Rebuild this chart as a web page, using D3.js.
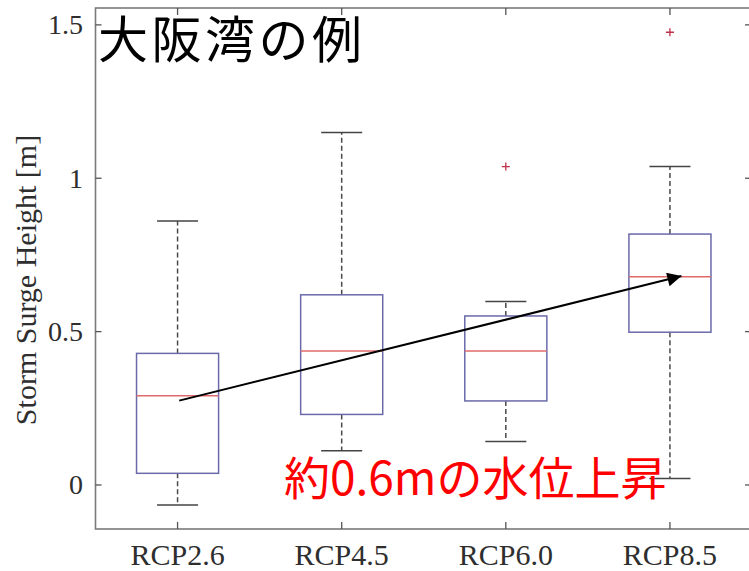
<!DOCTYPE html>
<html><head><meta charset="utf-8">
<script src="https://cdn.jsdelivr.net/npm/d3@7"></script>
<style>body{margin:0;background:#fff;} svg{display:block;}</style>
</head><body>
<svg id="chart" width="749" height="571"></svg>
<script>
const categories = ["RCP2.6", "RCP4.5", "RCP6.0", "RCP8.5"];
const upperWhisker = [0.861, 1.149, 0.598, 1.038];
const q3 = [0.429, 0.620, 0.551, 0.818];
const median = [0.291, 0.437, 0.437, 0.679];
const q1 = [0.038, 0.230, 0.274, 0.498];
const lowerWhisker = [-0.065, 0.112, 0.142, 0.021];
const outliers = [[], [], [1.038], [1.476]];
const yTicks = [0, 0.5, 1, 1.5];
const yTickLabels = ["0", "0.5", "1", "1.5"];
const arrowStart = [0.01, 0.275];   // [category index, value]
const arrowEnd = [3.07, 0.681];
const title = "大阪湾の例";
const note = "約0.6mの水位上昇";
const yLabel = "Storm Surge Height [m]";

const svg = d3.select("#chart");
const L = 95.5, R = 752, T = 8, B = 529;
const x = d3.scaleBand().domain(categories).range([L, R]).padding(0);
const xi = d3.scaleLinear().domain([-0.5, categories.length - 0.5]).range([L, R]);
const y = d3.scaleLinear().domain([-0.1435, 1.555]).range([B, T]);
const bw = x.bandwidth();
const cx = c => x(c) + bw / 2;

const serif = "'Liberation Serif','Times New Roman',serif";
const axisColor = "#7a7a7a";

// frame
svg.append("rect").attr("x", L).attr("y", T).attr("width", R - L).attr("height", B - T)
  .attr("fill", "none").attr("stroke", axisColor).attr("stroke-width", 1.6);

// y ticks (left and right, inward)
const gy = svg.append("g");
yTicks.forEach((t, i) => {
  gy.append("line").attr("x1", L).attr("x2", L + 6).attr("y1", y(t)).attr("y2", y(t)).attr("stroke", "#555").attr("stroke-width", 1.3);
  gy.append("line").attr("x1", R).attr("x2", R - 7).attr("y1", y(t)).attr("y2", y(t)).attr("stroke", "#555").attr("stroke-width", 1.3);
  gy.append("text").attr("x", 83).attr("y", y(t)).attr("text-anchor", "end").attr("dominant-baseline", "central")
    .attr("font-family", serif).attr("font-size", 28).attr("fill", "#2e2e2e").text(yTickLabels[i]);
});

// x ticks (bottom and top, inward)
categories.forEach(c => {
  svg.append("line").attr("x1", cx(c)).attr("x2", cx(c)).attr("y1", B).attr("y2", B - 7).attr("stroke", "#555").attr("stroke-width", 1.3);
  svg.append("line").attr("x1", cx(c)).attr("x2", cx(c)).attr("y1", T).attr("y2", T + 7).attr("stroke", "#555").attr("stroke-width", 1.3);
  svg.append("text").attr("x", cx(c)).attr("y", 565).attr("text-anchor", "middle")
    .attr("font-family", serif).attr("font-size", 30).attr("fill", "#2e2e2e").text(c);
});

// y label
svg.append("text").attr("transform", `translate(36,280) rotate(-90)`)
  .attr("text-anchor", "middle").attr("font-family", serif).attr("font-size", 30).attr("fill", "#2e2e2e").text(yLabel);

// boxes
const boxColor = "#6a6aaa", medColor = "#e06a6a", whiskColor = "#4a4a4a";
categories.forEach((c, i) => {
  const g = svg.append("g");
  const xc = cx(c);
  // whiskers
  g.append("line").attr("x1", xc).attr("x2", xc).attr("y1", y(q3[i])).attr("y2", y(upperWhisker[i]))
    .attr("stroke", whiskColor).attr("stroke-width", 1.5).attr("stroke-dasharray", "5,3");
  g.append("line").attr("x1", xc).attr("x2", xc).attr("y1", y(q1[i])).attr("y2", y(lowerWhisker[i]))
    .attr("stroke", whiskColor).attr("stroke-width", 1.5).attr("stroke-dasharray", "5,3");
  // caps
  [upperWhisker[i], lowerWhisker[i]].forEach(v => {
    g.append("line").attr("x1", xc - bw * 0.125).attr("x2", xc + bw * 0.125).attr("y1", y(v)).attr("y2", y(v))
      .attr("stroke", "#444").attr("stroke-width", 1.5);
  });
  // box
  g.append("rect").attr("x", xc - bw * 0.25).attr("width", bw * 0.5)
    .attr("y", y(q3[i])).attr("height", y(q1[i]) - y(q3[i]))
    .attr("fill", "none").attr("stroke", boxColor).attr("stroke-width", 1.5);
  // median
  g.append("line").attr("x1", xc - bw * 0.25).attr("x2", xc + bw * 0.25).attr("y1", y(median[i])).attr("y2", y(median[i]))
    .attr("stroke", medColor).attr("stroke-width", 1.4);
  // outliers
  outliers[i].forEach(v => {
    g.append("path").attr("d", `M${xc - 4},${y(v)}H${xc + 4}M${xc},${y(v) - 4}V${y(v) + 4}`)
      .attr("stroke", "#c03048").attr("stroke-width", 1.3);
  });
});

// arrow
svg.append("defs").append("marker").attr("id", "ah").attr("viewBox", "0 0 10 10")
  .attr("refX", 10).attr("refY", 5).attr("markerWidth", 8).attr("markerHeight", 7)
  .attr("markerUnits", "strokeWidth").attr("orient", "auto")
  .append("path").attr("d", "M0,0L10,5L0,10Z").attr("fill", "#000");
svg.append("line").attr("x1", xi(arrowStart[0])).attr("y1", y(arrowStart[1]))
  .attr("x2", xi(arrowEnd[0])).attr("y2", y(arrowEnd[1]))
  .attr("stroke", "#000").attr("stroke-width", 2).attr("marker-end", "url(#ah)");

// title & note
const cjk = "'Noto Sans CJK JP','Noto Sans',sans-serif";
svg.append("text").attr("x", 98).attr("y", 36).attr("dominant-baseline", "central")
  .attr("font-family", cjk).attr("font-size", 50).attr("letter-spacing", 3.5).attr("fill", "#000").text(title);
svg.append("text").attr("x", 284).attr("y", 475).attr("dominant-baseline", "central")
  .attr("font-family", cjk).attr("font-size", 46).attr("fill", "#ff0000").text(note);
</script>
</body></html>
